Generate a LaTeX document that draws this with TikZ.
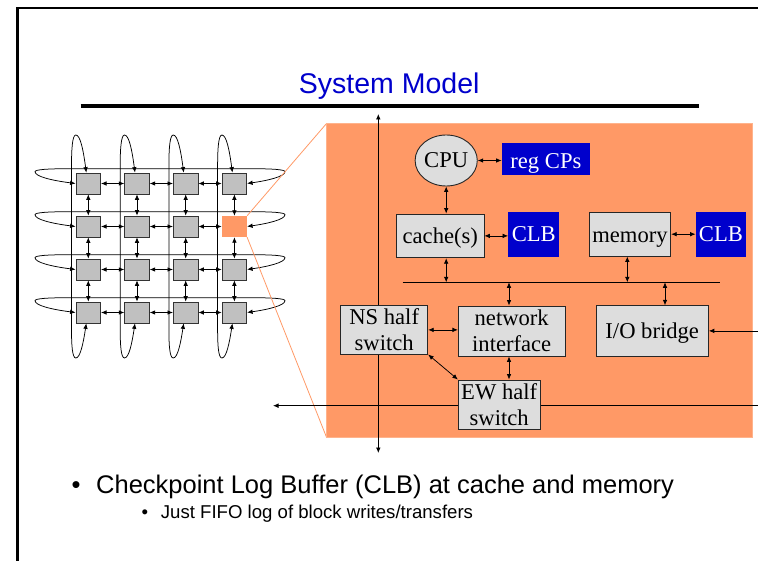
\documentclass[tikz,border=0pt]{standalone}
\usepackage{fontspec}
\setmainfont{Liberation Serif}
\newfontfamily\arial{Liberation Sans}
\usetikzlibrary{arrows.meta,shapes.geometric,calc}
\definecolor{titleblue}{HTML}{0000CC}
\definecolor{boxblue}{HTML}{0000CC}
\definecolor{orng}{HTML}{FF9966}
\definecolor{orngedge}{HTML}{FFB38C}
\definecolor{lgray}{HTML}{DDDDDD}
\definecolor{sqgray}{HTML}{C0C0C0}
\begin{document}
\begin{tikzpicture}[x=1pt,y=-1pt,
  dar/.style={{Latex[length=5.5pt,width=4.6pt]}-{Latex[length=5.5pt,width=4.6pt]}, line width=0.75pt},
  sar/.style={-{Latex[length=5.5pt,width=4.6pt]}, line width=0.75pt},
  gsq/.style={draw=black!80, line width=0.7pt, fill=sqgray, minimum width=24.7pt, minimum height=21pt, inner sep=0pt},
  osq/.style={fill=orng, minimum width=25pt, minimum height=21pt, inner sep=0pt},
  gbox/.style={draw=black!85, line width=0.9pt, fill=lgray, inner sep=0pt, align=center, font=\fontsize{22.6}{26.5}\selectfont},
  bbox/.style={fill=boxblue, text=white, inner sep=0pt, font=\fontsize{22.6}{26.5}\selectfont},
  oneline/.style={text height=17pt, text depth=2pt}
]
\useasboundingbox (0,0) rectangle (758,561);
% frame
\draw[line width=2.5pt] (17.3,561) -- (17.3,8) -- (758,8);
% title
\node[anchor=base, text=titleblue, font=\arial\fontsize{28.5}{32}\selectfont, inner sep=0pt] (title) at (389.2,93.3) {System Model};
\draw[line width=4pt] (80.7,106.3) -- (699.3,106.3);

% grid of squares
\foreach \r/\c in {1/1,1/2,1/3,1/4,2/1,2/2,2/3,3/1,3/2,3/3,3/4,4/1,4/2,4/3,4/4}
  \node[gsq] (g\r\c) at ({88.3+48.7*(\c-1)},{183.5+43*(\r-1)}) {};
\node[osq] (g24) at ({88.3+48.7*3},{183.5+43}) {};

% horizontal neighbour arrows
\foreach \r in {1,2,3,4}
  \foreach \c/\d in {1/2,2/3,3/4}
    \draw[dar] (g\r\c.east) -- (g\r\d.west);
% vertical neighbour arrows
\foreach \c in {1,2,3,4}
  \foreach \r/\s in {1/2,2/3,3/4}
    \draw[dar] (g\r\c.south) -- (g\s\c.north);

% row wrap-around loops
\foreach \r in {1,2,3,4}{
  \pgfmathsetmacro{\cy}{183.5+43*(\r-1)}
  \draw[dar] (g\r1.west) .. controls (52,\cy-3) and (35,\cy-7) .. (35,\cy-11.8)
    .. controls (35,\cy-14) and (48,\cy-14.8) .. (70,\cy-14.8) -- (250,\cy-14.8)
    .. controls (272,\cy-14.8) and (285,\cy-14) .. (285,\cy-11.8)
    .. controls (285,\cy-7) and (268,\cy-3) .. (g\r4.east);
}
% column wrap-around loops
\foreach \c in {1,2,3,4}{
  \pgfmathsetmacro{\cx}{88.3+48.7*(\c-1)}
  \draw[dar] ([xshift=-2pt]g1\c.north) .. controls (\cx-5,150) and (\cx-8,135) .. (\cx-12.5,135)
    .. controls (\cx-16,135) and (\cx-16.8,150) .. (\cx-16.8,165) -- (\cx-16.8,330)
    .. controls (\cx-16.8,345) and (\cx-16,358) .. (\cx-12.5,358)
    .. controls (\cx-8,358) and (\cx-5,343) .. ([xshift=-2pt]g4\c.south);
}
\node[osq] at (g24) {};

% big zoomed rectangle
\coordinate (bigTL) at (326.7,123.3);
\coordinate (bigBL) at (326.7,437.7);
\draw[orng, line width=0.8pt] (g24.north east) -- (bigTL);
\draw[orng, line width=0.8pt] (g24.south east) -- (bigBL);
\node[fill=orng, draw=orngedge, line width=1pt, inner sep=0pt, minimum width=426pt, minimum height=314.4pt] (big) at (539.85,280.5) {};

% axes
\coordinate (axT) at (378.3,114);
\coordinate (axB) at (378.3,453);
\coordinate (axL) at (273,405.7);
\coordinate (axR) at (758,405.7);
\draw[dar] (axT) -- (axB);
\draw[sar] (axR) -- (axL);

% bus
\coordinate (busL) at (402.7,282.3);
\coordinate (busR) at (720,282.3);
\draw[line width=0.8pt] (busL) -- (busR);

% components
\node[ellipse, draw=black!85, line width=0.9pt, fill=lgray, minimum width=61pt, minimum height=51pt, inner sep=0pt, text height=16pt, text depth=2.4pt, font=\fontsize{22.6}{26.5}\selectfont] (cpu) at (446.2,160.5) {CPU};
\node[bbox, text height=19pt, text depth=0.2pt, minimum width=88.3pt, minimum height=32.3pt] (reg) at (545.9,158.9) {reg CPs};
\node[gbox, oneline, minimum width=87.3pt, minimum height=43.7pt] (cache) at (440.3,235.9) {cache(s)};
\node[bbox, oneline, minimum width=51pt, minimum height=44.4pt] (clb1) at (533.8,234.5) {CLB};
\node[gbox, text height=18pt, text depth=1pt, minimum width=81.4pt, minimum height=43.7pt] (mem) at (630,234.2) {memory};
\node[bbox, oneline, minimum width=50.3pt, minimum height=44.4pt] (clb2) at (720.9,234.5) {CLB};
\node[gbox, minimum width=87pt, minimum height=48.3pt] (ns) at (384.2,329.9) {NS half\\switch};
\node[gbox, minimum width=106.7pt, minimum height=50pt] (ni) at (511.7,331) {network\\interface};
\node[gbox, oneline, minimum width=112.3pt, minimum height=50.3pt] (io) at (652.2,330.9) {I/O bridge};
\node[gbox, minimum width=81.7pt, minimum height=49pt] (ew) at (499.2,404.5) {EW half\\switch};

% connections
\draw[dar] (cpu.east) -- (cpu.east -| reg.west);
\draw[dar] (cpu.south) -- (cpu.south |- cache.north);
\draw[dar] (cache.east) -- (cache.east -| clb1.west);
\draw[dar] (mem.east) -- (mem.east -| clb2.west);
\draw[dar] (cpu.south |- cache.south) -- (cpu.south |- busL);
\draw[dar] ([xshift=-2.7pt]mem.south) -- ([xshift=-2.7pt]mem.south |- busL);
\draw[dar] ([xshift=-2.7pt]ni.north) -- ([xshift=-2.7pt]ni.north |- busL);
\draw[dar] ([xshift=12.8pt]io.north) -- ([xshift=12.8pt]io.north |- busL);
\coordinate (ioin) at (758,330.9);
\draw[sar] (ioin) -- (io.east);
\draw[dar] (ns.east) -- (ns.east -| ni.west);
\draw[dar] (ns.south east) -- (ew.north west);
\draw[dar] ([xshift=-2.7pt]ni.south) -- ([xshift=-2.7pt]ni.south |- ew.north);

% bullets
\node[anchor=base, font=\arial\fontsize{25.5}{30}\selectfont, inner sep=0pt] (b1) at (76,493.3) {\textbullet};
\node[anchor=base west, font=\arial\fontsize{25.5}{30}\selectfont, inner sep=0pt] (t1) at (96,493.3) {Checkpoint Log Buffer (CLB) at cache and memory};
\node[anchor=base, font=\arial\fontsize{18.6}{22}\selectfont, inner sep=0pt] (b2) at (145,518.7) {\textbullet};
\node[anchor=base west, font=\arial\fontsize{18.6}{22}\selectfont, inner sep=0pt] (t2) at (160.7,518.7) {Just FIFO log of block writes/transfers};
\end{tikzpicture}
\end{document}
